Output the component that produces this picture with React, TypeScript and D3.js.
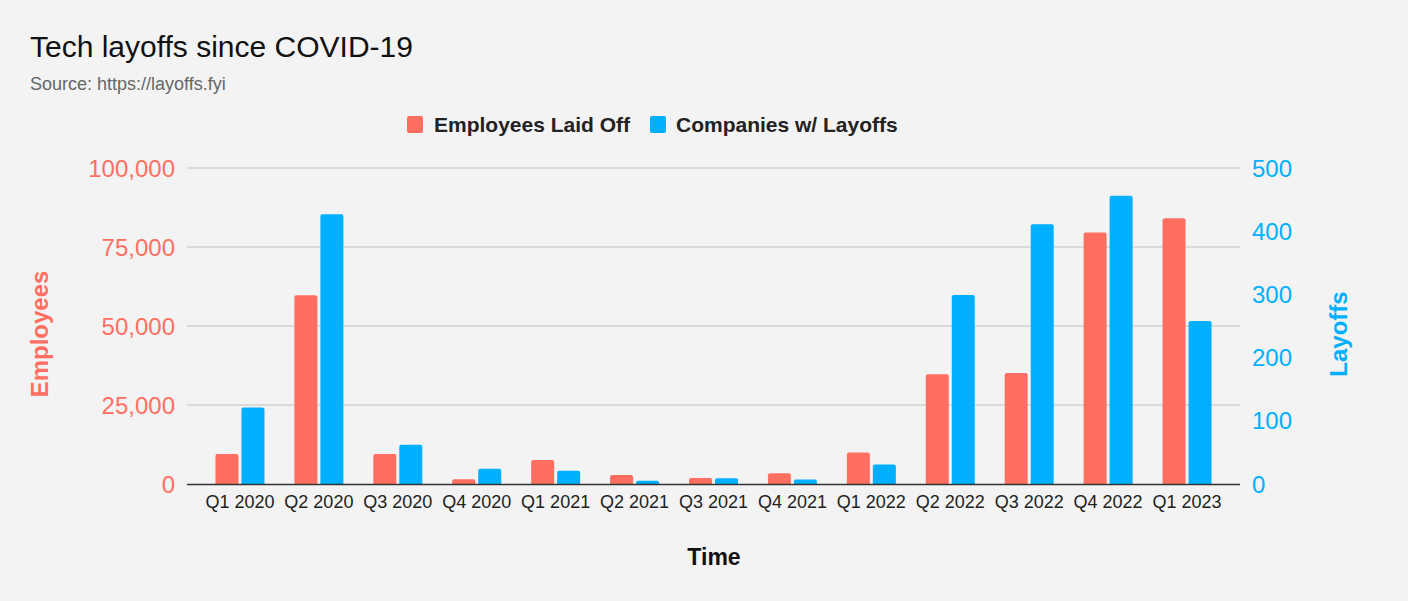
import React from "react";
import * as d3 from "d3";

const quarters = ["Q1 2020","Q2 2020","Q3 2020","Q4 2020","Q1 2021","Q2 2021","Q3 2021","Q4 2021","Q1 2022","Q2 2022","Q3 2022","Q4 2022","Q1 2023"];
const employeesLaidOff = [9500, 59700, 9500, 1500, 7600, 2850, 1900, 3400, 10000, 34700, 35100, 79600, 84100];
const companiesWithLayoffs = [121, 427, 62, 24, 21, 5, 9, 7, 31, 299, 411, 456, 258];
const leftTicks = [0, 25000, 50000, 75000, 100000];
const rightTicks = [0, 100, 200, 300, 400, 500];

const W = 1408, H = 601;
const RED = "#ff6f61";
const BLUE = "#00b0ff";
const FONT = "Liberation Sans, Arial, sans-serif";

function topRounded(x: number, y: number, w: number, h: number, r: number) {
  if (h <= 0) return "";
  const rr = Math.min(r, h, w / 2);
  return `M${x},${y + h}V${y + rr}Q${x},${y} ${x + rr},${y}H${x + w - rr}Q${x + w},${y} ${x + w},${y + rr}V${y + h}Z`;
}

export default function App() {
  const plotL = 187, plotR = 1240, y0 = 484, yTop = 168;
  const x = d3.scaleBand<string>().domain(quarters).range([200.5, 1226.5]).paddingInner(0).paddingOuter(0);
  const yL = d3.scaleLinear().domain([0, 100000]).range([y0, yTop]);
  const yR = d3.scaleLinear().domain([0, 500]).range([y0, yTop]);
  const fmt = d3.format(",");
  const bw = 23, gap = 3;

  return (
    <svg width={W} height={H} style={{ position: "absolute", left: 0, top: 0, background: "#f3f3f3" }} fontFamily={FONT}>
      <rect width={W} height={H} fill="#f3f3f3" />
      <text x={30} y={57} fontSize={30} fill="#111">Tech layoffs since COVID-19</text>
      <text x={30} y={90} fontSize={18} fill="#666">Source: https://layoffs.fyi</text>

      {/* legend */}
      <rect x={407} y={116} width={16} height={17} rx={2} fill={RED} />
      <text x={434} y={132} fontSize={21} fontWeight="bold" fill="#222">Employees Laid Off</text>
      <rect x={650} y={116} width={16} height={17} rx={2} fill={BLUE} />
      <text x={676} y={132} fontSize={21} fontWeight="bold" fill="#222">Companies w/ Layoffs</text>

      {/* gridlines */}
      {leftTicks.slice(1).map((t) => (
        <line key={t} x1={plotL} x2={plotR} y1={yL(t)} y2={yL(t)} stroke="#c2c2c2" strokeWidth={1} />
      ))}

      {/* bars */}
      {quarters.map((q, i) => {
        const c = (x(q) as number) + x.bandwidth() / 2;
        const xr = c - gap / 2 - bw;
        const xb = c + gap / 2;
        const ry = yL(employeesLaidOff[i]);
        const by = yR(companiesWithLayoffs[i]);
        return (
          <g key={q}>
            <path d={topRounded(xr, ry, bw, y0 - ry, 2)} fill={RED} />
            <path d={topRounded(xb, by, bw, y0 - by, 2)} fill={BLUE} />
          </g>
        );
      })}

      {/* baseline */}
      <line x1={plotL} x2={plotR} y1={y0 + 0.5} y2={y0 + 0.5} stroke="#333" strokeWidth={1.5} />

      {/* left axis labels */}
      {leftTicks.map((t) => (
        <text key={t} x={175} y={yL(t) + 8.5} fontSize={24} fill={RED} textAnchor="end">{fmt(t)}</text>
      ))}
      {/* right axis labels */}
      {rightTicks.map((t) => (
        <text key={t} x={1252} y={yR(t) + 8.5} fontSize={24} fill={BLUE} textAnchor="start">{t}</text>
      ))}

      {/* x labels */}
      {quarters.map((q) => (
        <text key={q} x={(x(q) as number) + x.bandwidth() / 2} y={508} fontSize={18} fill="#222" textAnchor="middle">{q}</text>
      ))}

      <text x={714} y={565} fontSize={23} fontWeight="bold" fill="#111" textAnchor="middle">Time</text>
      <text transform={`translate(48,334) rotate(-90)`} fontSize={24} fontWeight="bold" fill={RED} textAnchor="middle">Employees</text>
      <text transform={`translate(1347,334) rotate(-90)`} fontSize={24} fontWeight="bold" fill={BLUE} textAnchor="middle">Layoffs</text>
    </svg>
  );
}
